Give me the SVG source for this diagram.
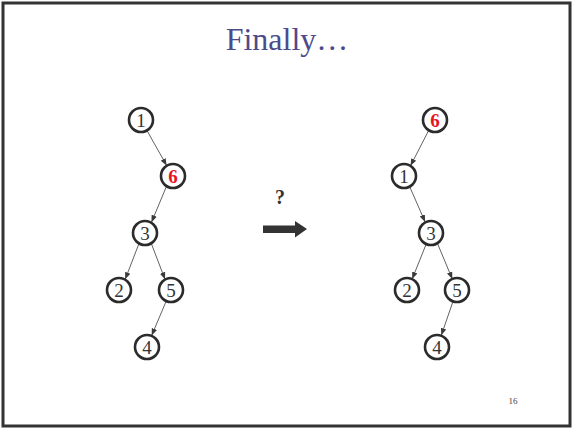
<svg xmlns="http://www.w3.org/2000/svg" width="573" height="429" viewBox="0 0 573 429">
  <style>
    .node circle { fill: #ffffff; stroke: #2b2b2b; stroke-width: 2.6; }
    .node text { font-family: "Liberation Serif", "Times New Roman", serif; font-size: 19px; fill: #333333; text-anchor: middle; }
    .node text.hot { fill: #e8141c; font-weight: bold; }
    .edge { stroke: #3a3a3a; stroke-width: 0.8; fill: none; marker-end: url(#tip); }
    .title { font-family: "Liberation Serif", "Times New Roman", serif; font-size: 32px; fill: #4b4b8c; text-anchor: middle; }
  </style>
  <defs>
    <marker id="tip" viewBox="0 0 10 10" refX="10" refY="5" markerWidth="7" markerHeight="7" markerUnits="userSpaceOnUse" orient="auto">
      <path d="M0,1 L10,5 L0,9 Z" fill="#3a3a3a"/>
    </marker>
  </defs>

  <!-- slide frame -->
  <rect x="0" y="0" width="573" height="429" fill="#ffffff"/>
  <rect x="3" y="3" width="567" height="423" fill="none" stroke="#333333" stroke-width="3"/>

  <text class="title" x="287" y="50">Finally…</text>

  <!-- connectors -->
  <g id="connectors">
    <!-- left tree -->
    <line class="edge" x1="147.0" y1="130.6" x2="166.6" y2="165.4"/>
    <line class="edge" x1="166.3" y1="186.8" x2="151.5" y2="222.2"/>
    <line class="edge" x1="139.0" y1="243.5" x2="125.2" y2="279.3"/>
    <line class="edge" x1="151.3" y1="243.5" x2="165.0" y2="279.3"/>
    <line class="edge" x1="166.0" y1="301.6" x2="151.7" y2="335.4"/>
    <!-- right tree -->
    <line class="edge" x1="428.8" y1="130.2" x2="410.5" y2="165.8"/>
    <line class="edge" x1="409.9" y1="187.1" x2="425.1" y2="221.9"/>
    <line class="edge" x1="426.2" y1="244.0" x2="412.2" y2="279.0"/>
    <line class="edge" x1="437.7" y1="244.0" x2="452.3" y2="279.0"/>
    <line class="edge" x1="453.0" y1="301.4" x2="441.3" y2="335.3"/>
  </g>

  <!-- left tree nodes -->
  <g id="L1" class="node"><circle cx="141" cy="120" r="12"/><text x="141" y="126.5">1</text></g>
  <g id="L6" class="node"><circle cx="173" cy="176" r="12"/><text class="hot" x="173" y="182.5">6</text></g>
  <g id="L3" class="node"><circle cx="145" cy="233" r="12"/><text x="145" y="239.5">3</text></g>
  <g id="L2" class="node"><circle cx="119" cy="290" r="12"/><text x="119" y="296.5">2</text></g>
  <g id="L5" class="node"><circle cx="171" cy="290" r="12"/><text x="171" y="296.5">5</text></g>
  <g id="L4" class="node"><circle cx="147" cy="347" r="12"/><text x="147" y="353.5">4</text></g>

  <!-- transformation arrow -->
  <g id="transform">
    <text x="280" y="204" font-family="Liberation Serif, Times New Roman, serif" font-size="20" font-weight="bold" fill="#333333" text-anchor="middle">?</text>
    <path d="M263,225.5 L295,225.5 L295,221 L307,229 L295,237.5 L295,233 L263,233 Z" fill="#333333"/>
  </g>

  <!-- right tree nodes -->
  <g id="R6" class="node"><circle cx="435" cy="120" r="12"/><text class="hot" x="435" y="126.5">6</text></g>
  <g id="R1" class="node"><circle cx="404" cy="176" r="12"/><text x="404" y="182.5">1</text></g>
  <g id="R3" class="node"><circle cx="431" cy="233" r="12"/><text x="431" y="239.5">3</text></g>
  <g id="R2" class="node"><circle cx="407" cy="290" r="12"/><text x="407" y="296.5">2</text></g>
  <g id="R5" class="node"><circle cx="457" cy="290" r="12"/><text x="457" y="296.5">5</text></g>
  <g id="R4" class="node"><circle cx="437" cy="347" r="12"/><text x="437" y="353.5">4</text></g>

  <text x="513" y="404" font-family="Liberation Serif, Times New Roman, serif" font-size="9" fill="#444444" text-anchor="middle">16</text>
</svg>
